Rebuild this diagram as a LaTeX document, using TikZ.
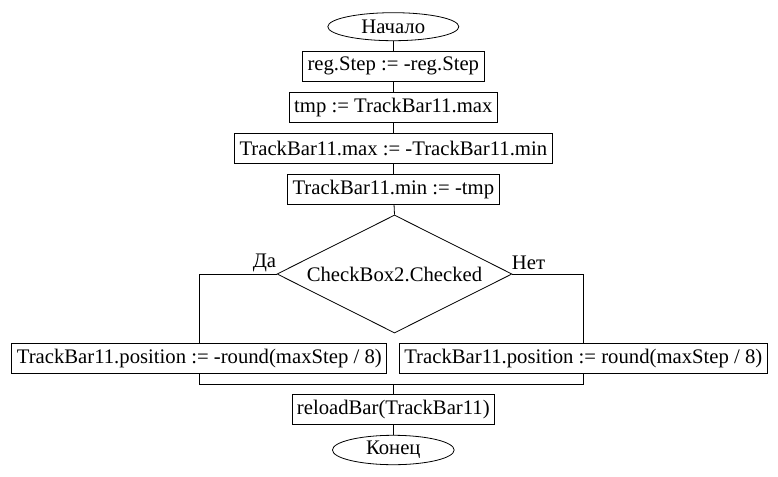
\documentclass[tikz,border=0pt]{standalone}
\usepackage{fontspec}
\setmainfont{Liberation Serif}
\usetikzlibrary{shapes.geometric}
\begin{document}
\begin{tikzpicture}[x=1pt,y=-1pt,
  every node/.style={font=\fontsize{20.7}{24}\selectfont},
  stepbox/.style={draw,line width=0.8pt,rectangle,inner xsep=5pt,inner ysep=0pt,minimum height=30pt},
  term/.style={draw,line width=0.8pt,ellipse,inner sep=0pt},
  cond/.style={draw,line width=0.8pt,diamond,inner sep=0pt,aspect=2,minimum width=235pt,minimum height=118pt},
  conn/.style={line width=0.8pt},
  lbl/.style={inner sep=0pt}]
\useasboundingbox (0,0) rectangle (778,476);
\node[term,minimum width=131pt,minimum height=28pt] (start) at (393.3,26.7) {Начало};
\node[stepbox] (b1) at (393.3,66.2) {reg.Step := -reg.Step};
\node[stepbox] (b2) at (393.3,107.7) {tmp := TrackBar11.max};
\node[stepbox] (b3) at (393.3,148.3) {TrackBar11.max := -TrackBar11.min};
\node[stepbox] (b4) at (393.3,189.2) {TrackBar11.min := -tmp};
\node[cond] (c) at (394.5,274) {CheckBox2.Checked};
\node[stepbox] (l) at (199.3,358.3) {TrackBar11.position := -round(maxStep / 8)};
\node[stepbox] (r) at (583.3,358.3) {TrackBar11.position := round(maxStep / 8)};
\node[stepbox] (rb) at (393.3,409.2) {reloadBar(TrackBar11)};
\node[term,minimum width=121.7pt,minimum height=29.4pt] (end) at (393.3,450) {Конец};
\node[lbl] (da) at (264.5,263) {Да};
\node[lbl] (net) at (528.5,263) {Нет};
\coordinate (m) at (393.3,384);
\draw[conn] (start) -- (b1);
\draw[conn] (b1) -- (b2);
\draw[conn] (b2) -- (b3);
\draw[conn] (b3) -- (b4);
\draw[conn] (b4) -- (c.north);
\draw[conn] (c.west) -| (l.north);
\draw[conn] (c.east) -| (r.north);
\draw[conn] (l.south) |- (m);
\draw[conn] (r.south) |- (m);
\draw[conn] (m) -- (rb.north);
\draw[conn] (rb) -- (end);
\end{tikzpicture}
\end{document}
